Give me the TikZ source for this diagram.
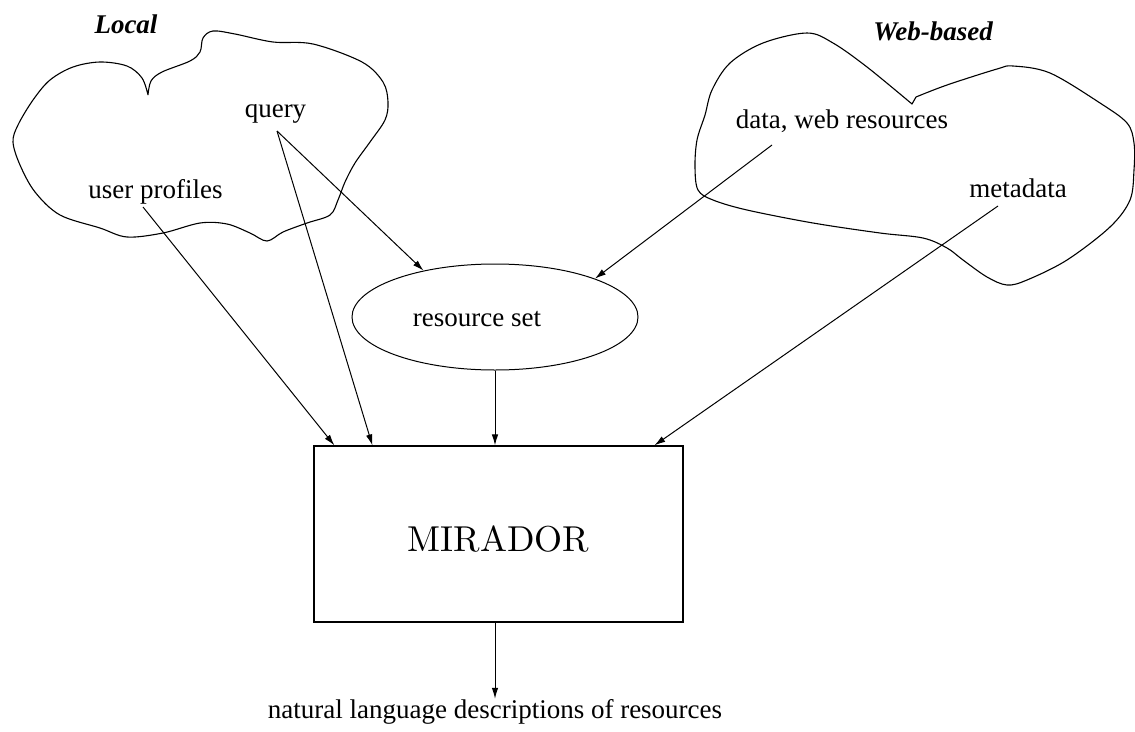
\documentclass[tikz,border=0pt]{standalone}
\usepackage{fontspec}
\newfontfamily\lsf{Liberation Serif}
\newfontfamily\lmten{lmroman10-regular}[Extension=.otf]
\usetikzlibrary{shapes.geometric,arrows.meta,calc}
\tikzset{
  lbl/.style={inner sep=0pt, anchor=base, font=\lsf\fontsize{27}{32}\selectfont},
  ttl/.style={inner sep=0pt, anchor=base, font=\lsf\bfseries\itshape\fontsize{27}{32}\selectfont},
  cloud line/.style={line width=1.1pt, line join=round},
  conn/.style={line width=1pt, -{Latex[length=11pt,width=6.5pt]}},
}
\begin{document}
\begin{tikzpicture}[x=1pt,y=-1pt]
\useasboundingbox (0,0) rectangle (1135,731);
% local cloud
\draw[cloud line] plot[smooth, tension=0.55] coordinates {
(148,95) (151,81) (162,72) (190,61) (200,52) (203,38) (213,31) (235,34)
(273,42) (313,44) (362,62) (383,82) (388,102) (385,120) (370,142) (355,163)
(345,182) (338,200) (330,215) (307,223) (283,232) (267,241) (250,233)
(227,224) (200,223) (163,233) (127,237) (100,228) (60,215) (35,192)
(20,165) (13,142) (18,125) (33,100) (50,80) (73,67) (100,62) (127,66)
(142,78) (148,95)};
% web cloud
\draw[cloud line] plot[smooth, tension=0.55] coordinates {
(916,97) (947,85) (997,69) (1013,66) (1050,73) (1100,103) (1127,123)
(1134,143) (1134,170) (1130,200) (1110,227) (1067,260) (1027,280)
(1007,285) (987,277) (963,260) (947,248) (923,238) (880,233) (813,223)
(747,210) (713,200) (698,190) (695,167) (697,140) (705,115) (712,90) (730,63)
(763,43) (807,33) (833,43) (867,67) (912,104)} -- (916,97);
% titles
\node[ttl] (local) at (126,33) {Local};
\node[ttl] (web) at (933,40) {Web-based};
% labels
\node[lbl] (q) at (275.5,117) {query};
\node[lbl] (up) at (155.5,198) {user profiles};
\node[lbl] (dw) at (842,128) {data, web resources};
\node[lbl] (md) at (1018,197) {metadata};
% resource set
\node[draw, ellipse, line width=1pt, minimum width=286, minimum height=106, inner sep=0pt] (rs) at (495,317) {};
\node[lbl] (rst) at (477,326) {resource set};
% MIRADOR
\node[draw, line width=1.2pt, minimum width=369, minimum height=176, inner sep=0pt,
      text height=36pt, font=\lmten\fontsize{36}{40}\selectfont] (mir) at (498.5,534) {MIRADOR};
% output
\node[lbl] (nl) at (495,718) {natural language descriptions of resources};
% connectors
\draw[conn] ($(up.base)+(-12.5,9)$) -- ($(mir.north west)+(21,0)$);
\draw[conn] ($(q.base)+(1.5,14)$) -- ($(mir.north west)+(59,0)$);
\draw[conn] ($(q.base)+(1.5,14)$) -- (rs.147);
\draw[conn] ($(dw.base)+(-70,17)$) -- (rs.21);
\draw[conn] ($(md.base)+(-20,9)$) -- ($(mir.north west)+(341,0)$);
\draw[conn] (rs.south) -- (rs.south |- mir.north);
\draw[conn] (nl.north |- mir.south) -- (nl.north);
\end{tikzpicture}
\end{document}
